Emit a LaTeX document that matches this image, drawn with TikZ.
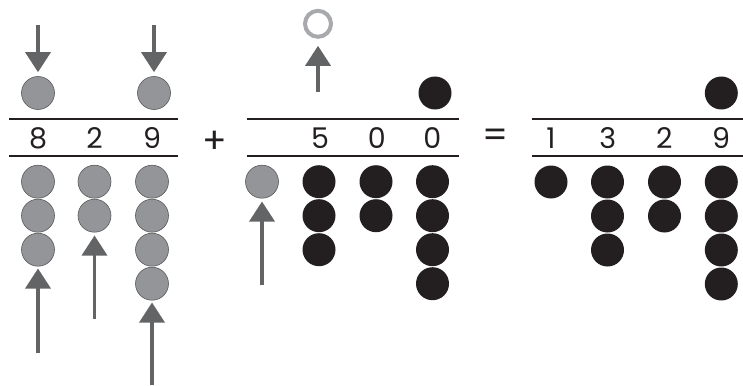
\documentclass[tikz,border=0pt]{standalone}
\usepackage{fontspec}
\setmainfont{Poppins}
\usetikzlibrary{arrows.meta}
\definecolor{beadgrey}{HTML}{939598}
\definecolor{beadedge}{HTML}{58595B}
\definecolor{arrowgrey}{HTML}{636466}
\definecolor{ink}{HTML}{231F20}
\definecolor{ringgrey}{HTML}{A7A9AC}
\begin{document}
\begin{tikzpicture}[x=1pt,y=-1pt,
  gbead/.style={circle, fill=beadgrey, draw=beadedge, line width=0.6pt, minimum size=33pt, inner sep=0pt},
  bbead/.style={circle, fill=ink, minimum size=33pt, inner sep=0pt},
  rulel/.style={line width=1.8pt, draw=ink},
  digit/.style={font=\fontsize{28.5}{28.5}\selectfont, text=ink, anchor=base, inner sep=0pt},
  opsign/.style={font=\fontsize{36}{36}\selectfont, text=ink, anchor=center, inner sep=0pt},
  arr/.style={draw=arrowgrey, line width=3.4pt, -{Triangle[length=20pt,width=25pt]}},
  ringn/.style={circle, draw=ringgrey, line width=4pt, minimum size=26pt, inner sep=0pt}]
\useasboundingbox (0,0) rectangle (743,385);

% ---------- first addend 829 ----------
\node[gbead] (aT1) at (38,93) {};
\node[gbead] (aT3) at (154,93) {};
\coordinate (aL1) at (9,119);   \coordinate (aR1) at (178,119);
\coordinate (aL2) at (9,155.7); \coordinate (aR2) at (178,155.7);
\draw[rulel] (aL1) -- (aR1);
\draw[rulel] (aL2) -- (aR2);
\node[digit] (dA1) at (38,148.8) {8};
\node[digit] (dA2) at (94.5,148.8) {2};
\node[digit] (dA3) at (152,148.8) {9};
\foreach \r in {1,2,3} \node[gbead] (a1\r) at (38,{181.7+34*(\r-1)}) {};
\foreach \r in {1,2} \node[gbead] (a2\r) at (94.5,{181.7+34*(\r-1)}) {};
\foreach \r in {1,2,3,4} \node[gbead] (a3\r) at (152,{181.7+34*(\r-1)}) {};
% arrows
\coordinate (tA1) at (38,25);
\coordinate (tA3) at (154,25);
\draw[arr, shorten >=4pt] (tA1) -- (aT1.north);
\draw[arr, shorten >=4pt] (tA3) -- (aT3.north);
\coordinate (uA1) at (38,353);
\coordinate (uA2) at (94.5,319);
\coordinate (uA3) at (152,385);
\draw[arr, shorten >=2pt] (uA1) -- (a13.south);
\draw[arr, shorten >=3pt] (uA2) -- (a22.south);
\draw[arr, shorten >=2pt] (uA3) -- (a34.south);

\node[opsign] (plus) at (214.5,142.5) {+};

% ---------- second addend 500 ----------
\node[ringn] (ring) at (318,23.8) {};
\coordinate (tB) at (318,92.3);
\draw[arr, shorten >=7pt] (tB) -- (ring.south);
\node[bbead] (bT) at (435,93) {};
\coordinate (bL1) at (246.7,119);   \coordinate (bR1) at (459,119);
\coordinate (bL2) at (246.7,155.7); \coordinate (bR2) at (459,155.7);
\draw[rulel] (bL1) -- (bR1);
\draw[rulel] (bL2) -- (bR2);
\node[digit] (dB2) at (320,148.8) {5};
\node[digit] (dB3) at (376.7,148.8) {0};
\node[digit] (dB4) at (432.3,148.8) {0};
\node[gbead] (bg) at (262,181.7) {};
\coordinate (uB) at (262,285);
\draw[arr, shorten >=3pt] (uB) -- (bg.south);
\foreach \r in {1,2,3} \node[bbead] (b2\r) at (319,{181.7+34*(\r-1)}) {};
\foreach \r in {1,2} \node[bbead] (b3\r) at (376,{181.7+34*(\r-1)}) {};
\foreach \r in {1,2,3,4} \node[bbead] (b4\r) at (432.5,{181.7+34*(\r-1)}) {};

\node[opsign] (eq) at (496,138.5) {=};

% ---------- result 1329 ----------
\node[bbead] (cT) at (721.3,93) {};
\coordinate (cL1) at (531.7,119);   \coordinate (cR1) at (743,119);
\coordinate (cL2) at (531.7,156.2); \coordinate (cR2) at (743,156.2);
\draw[rulel] (cL1) -- (cR1);
\draw[rulel] (cL2) -- (cR2);
\node[digit] (dC1) at (551,148.8) {1};
\node[digit] (dC2) at (607.7,148.8) {3};
\node[digit] (dC3) at (664.3,148.8) {2};
\node[digit] (dC4) at (721,148.8) {9};
\node[bbead] (c11) at (551,182) {};
\foreach \r in {1,2,3} \node[bbead] (c2\r) at (607.5,{182+34*(\r-1)}) {};
\foreach \r in {1,2} \node[bbead] (c3\r) at (664.5,{182+34*(\r-1)}) {};
\foreach \r in {1,2,3,4} \node[bbead] (c4\r) at (721.3,{182+34*(\r-1)}) {};
\end{tikzpicture}
\end{document}
